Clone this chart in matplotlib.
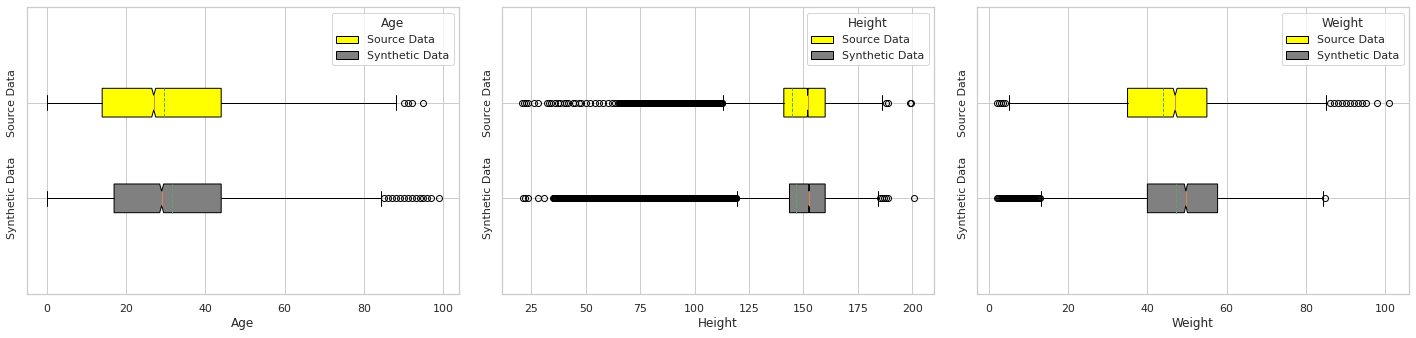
import matplotlib
matplotlib.use("Agg")
import matplotlib.pyplot as plt
import seaborn as sns
from matplotlib.patches import Patch

sns.set_theme(style="whitegrid")

# datos: cuartiles, bigotes, medias y outliers
variables = ["Age", "Height", "Weight"]
series = ["Source Data", "Synthetic Data"]
colores = ["yellow", "gray"]

age_src = dict(whislo=0, q1=14, med=27, q3=44, whishi=88, mean=29.7, cilo=26.5, cihi=27.5)
age_src_fliers = [90, 91, 92, 95]
age_syn = dict(whislo=0, q1=17, med=29, q3=44, whishi=84.2, mean=31.5, cilo=28.5, cihi=29.5)
age_syn_fliers = [85, 86, 87, 88, 89, 90, 91, 92, 93, 94, 95, 96, 97, 99]

height_src = dict(whislo=113, q1=141, med=152, q3=160, whishi=186.2, mean=144.6, cilo=151.8, cihi=152.2)
height_src_fliers = [
    20.5, 21.5, 22.5, 23.5, 26, 28, 32, 33, 34, 36, 37, 38, 40, 41, 42, 44, 45, 47, 48,
    50, 52, 54, 56, 58, 60, 62, 63.5,
    65, 65.25, 65.5, 65.75, 66, 66.25, 66.5, 66.75,
    67, 67.25, 67.5, 67.75, 68, 68.25, 68.5, 68.75,
    69, 69.25, 69.5, 69.75, 70, 70.25, 70.5, 70.75,
    71, 71.25, 71.5, 71.75, 72, 72.25, 72.5, 72.75,
    73, 73.25, 73.5, 73.75, 74, 74.25, 74.5, 74.75,
    75, 75.25, 75.5, 75.75, 76, 76.25, 76.5, 76.75,
    77, 77.25, 77.5, 77.75, 78, 78.25, 78.5, 78.75,
    79, 79.25, 79.5, 79.75, 80, 80.25, 80.5, 80.75,
    81, 81.25, 81.5, 81.75, 82, 82.25, 82.5, 82.75,
    83, 83.25, 83.5, 83.75, 84, 84.25, 84.5, 84.75,
    85, 85.25, 85.5, 85.75, 86, 86.25, 86.5, 86.75,
    87, 87.25, 87.5, 87.75, 88, 88.25, 88.5, 88.75,
    89, 89.25, 89.5, 89.75, 90, 90.25, 90.5, 90.75,
    91, 91.25, 91.5, 91.75, 92, 92.25, 92.5, 92.75,
    93, 93.25, 93.5, 93.75, 94, 94.25, 94.5, 94.75,
    95, 95.25, 95.5, 95.75, 96, 96.25, 96.5, 96.75,
    97, 97.25, 97.5, 97.75, 98, 98.25, 98.5, 98.75,
    99, 99.25, 99.5, 99.75, 100, 100.25, 100.5, 100.75,
    101, 101.25, 101.5, 101.75, 102, 102.25, 102.5, 102.75,
    103, 103.25, 103.5, 103.75, 104, 104.25, 104.5, 104.75,
    105, 105.25, 105.5, 105.75, 106, 106.25, 106.5, 106.75,
    107, 107.25, 107.5, 107.75, 108, 108.25, 108.5, 108.75,
    109, 109.25, 109.5, 109.75, 110, 110.25, 110.5, 110.75,
    111, 111.25, 111.5, 111.75, 112, 112.25, 112.5, 112.75,
    188, 189, 199, 199.5,
]
height_syn = dict(whislo=119.5, q1=143.6, med=152.6, q3=160, whishi=184.2, mean=146.5, cilo=152.4, cihi=152.8)
height_syn_fliers = [
    21, 22, 23.5, 28, 31,
    35, 35.25, 35.5, 35.75, 36, 36.25, 36.5, 36.75,
    37, 37.25, 37.5, 37.75, 38, 38.25, 38.5, 38.75,
    39, 39.25, 39.5, 39.75, 40, 40.25, 40.5, 40.75,
    41, 41.25, 41.5, 41.75, 42, 42.25, 42.5, 42.75,
    43, 43.25, 43.5, 43.75, 44, 44.25, 44.5, 44.75,
    45, 45.25, 45.5, 45.75, 46, 46.25, 46.5, 46.75,
    47, 47.25, 47.5, 47.75, 48, 48.25, 48.5, 48.75,
    49, 49.25, 49.5, 49.75, 50, 50.25, 50.5, 50.75,
    51, 51.25, 51.5, 51.75, 52, 52.25, 52.5, 52.75,
    53, 53.25, 53.5, 53.75, 54, 54.25, 54.5, 54.75,
    55, 55.25, 55.5, 55.75, 56, 56.25, 56.5, 56.75,
    57, 57.25, 57.5, 57.75, 58, 58.25, 58.5, 58.75,
    59, 59.25, 59.5, 59.75, 60, 60.25, 60.5, 60.75,
    61, 61.25, 61.5, 61.75, 62, 62.25, 62.5, 62.75,
    63, 63.25, 63.5, 63.75, 64, 64.25, 64.5, 64.75,
    65, 65.25, 65.5, 65.75, 66, 66.25, 66.5, 66.75,
    67, 67.25, 67.5, 67.75, 68, 68.25, 68.5, 68.75,
    69, 69.25, 69.5, 69.75, 70, 70.25, 70.5, 70.75,
    71, 71.25, 71.5, 71.75, 72, 72.25, 72.5, 72.75,
    73, 73.25, 73.5, 73.75, 74, 74.25, 74.5, 74.75,
    75, 75.25, 75.5, 75.75, 76, 76.25, 76.5, 76.75,
    77, 77.25, 77.5, 77.75, 78, 78.25, 78.5, 78.75,
    79, 79.25, 79.5, 79.75, 80, 80.25, 80.5, 80.75,
    81, 81.25, 81.5, 81.75, 82, 82.25, 82.5, 82.75,
    83, 83.25, 83.5, 83.75, 84, 84.25, 84.5, 84.75,
    85, 85.25, 85.5, 85.75, 86, 86.25, 86.5, 86.75,
    87, 87.25, 87.5, 87.75, 88, 88.25, 88.5, 88.75,
    89, 89.25, 89.5, 89.75, 90, 90.25, 90.5, 90.75,
    91, 91.25, 91.5, 91.75, 92, 92.25, 92.5, 92.75,
    93, 93.25, 93.5, 93.75, 94, 94.25, 94.5, 94.75,
    95, 95.25, 95.5, 95.75, 96, 96.25, 96.5, 96.75,
    97, 97.25, 97.5, 97.75, 98, 98.25, 98.5, 98.75,
    99, 99.25, 99.5, 99.75, 100, 100.25, 100.5, 100.75,
    101, 101.25, 101.5, 101.75, 102, 102.25, 102.5, 102.75,
    103, 103.25, 103.5, 103.75, 104, 104.25, 104.5, 104.75,
    105, 105.25, 105.5, 105.75, 106, 106.25, 106.5, 106.75,
    107, 107.25, 107.5, 107.75, 108, 108.25, 108.5, 108.75,
    109, 109.25, 109.5, 109.75, 110, 110.25, 110.5, 110.75,
    111, 111.25, 111.5, 111.75, 112, 112.25, 112.5, 112.75,
    113, 113.25, 113.5, 113.75, 114, 114.25, 114.5, 114.75,
    115, 115.25, 115.5, 115.75, 116, 116.25, 116.5, 116.75,
    117, 117.25, 117.5, 117.75, 118, 118.25, 118.5, 118.75,
    119, 119.25,
    185, 186, 187, 188, 189, 201,
]

weight_src = dict(whislo=5, q1=35, med=47, q3=55, whishi=85.1, mean=43.9, cilo=46.5, cihi=47.5)
weight_src_fliers = [2, 2.5, 3, 3.5, 4, 86, 87, 88, 89, 90, 91, 92, 93, 94, 95, 98, 101]
weight_syn = dict(whislo=13.2, q1=40, med=49.7, q3=57.7, whishi=84.2, mean=47.2, cilo=49.3, cihi=50.1)
weight_syn_fliers = [
    2, 2.25, 2.5, 2.75, 3, 3.25, 3.5, 3.75, 4, 4.25, 4.5, 4.75,
    5, 5.25, 5.5, 5.75, 6, 6.25, 6.5, 6.75, 7, 7.25, 7.5, 7.75,
    8, 8.25, 8.5, 8.75, 9, 9.25, 9.5, 9.75, 10, 10.25, 10.5, 10.75,
    11, 11.25, 11.5, 11.75, 12, 12.25, 12.5, 12.75, 13,
    84.7,
]

stats = {
    "Age": [(age_src, age_src_fliers), (age_syn, age_syn_fliers)],
    "Height": [(height_src, height_src_fliers), (height_syn, height_syn_fliers)],
    "Weight": [(weight_src, weight_src_fliers), (weight_syn, weight_syn_fliers)],
}

fig, axes = plt.subplots(1, 3, figsize=(1416 / 72, 338 / 72), dpi=72)
fig.subplots_adjust(left=27 / 1416, right=1409 / 1416, top=1 - 7 / 338, bottom=1 - 294 / 338, wspace=43 / 432)

for ax, var in zip(axes, variables):
    bxp_stats = []
    for (s, fl), nombre in zip(stats[var], series):
        d = dict(s)
        d["fliers"] = fl
        d["label"] = nombre
        bxp_stats.append(d)

    bp = ax.bxp(bxp_stats, positions=[2, 1], widths=0.3, orientation="horizontal",
                patch_artist=True, shownotches=True, showmeans=True, meanline=True,
                medianprops=dict(color="C1"), meanprops=dict(color="C2", linestyle="--"),
                flierprops=dict(marker="o", markerfacecolor="none", markeredgecolor="black"))
    for patch, c in zip(bp["boxes"], colores):
        patch.set_facecolor(c)
        patch.set_edgecolor("black")

    ax.set_ylim(0, 3)
    ax.set_yticks([2, 1])
    ax.set_yticklabels(series, rotation=90, va="center")
    ax.set_xlabel(var)
    handles = [Patch(facecolor=c, edgecolor="black", label=n) for c, n in zip(colores, series)]
    ax.legend(handles=handles, title=var, loc="upper right")

axes[0].set_xticks([0, 20, 40, 60, 80, 100])
axes[1].set_xticks([25, 50, 75, 100, 125, 150, 175, 200])
axes[2].set_xticks([0, 20, 40, 60, 80, 100])

plt.savefig("out.png", dpi=72)
